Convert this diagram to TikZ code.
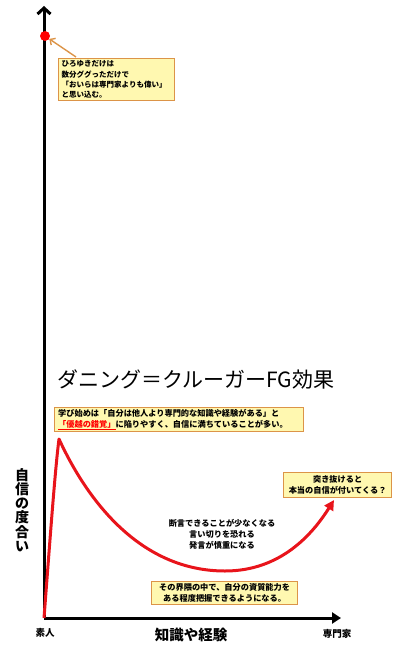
\documentclass[tikz,border=0pt]{standalone}
\usepackage{fontspec}
\setmainfont{Noto Sans CJK JP}
\usetikzlibrary{arrows.meta}
\definecolor{boxfill}{HTML}{FFF8B0}
\definecolor{boxline}{HTML}{DC9448}
\definecolor{curvered}{HTML}{E8141B}
\begin{document}
\begin{tikzpicture}[x=1pt,y=-1pt,
  callout/.style={draw=boxline, fill=boxfill, line width=1.3pt, rectangle, inner xsep=3pt, inner ysep=1pt,
     font=\fontsize{8.2}{11}\selectfont\bfseries},
  axis/.style={line width=3pt, black},
  lbl/.style={font=\fontsize{9.5}{11}\selectfont\bfseries, inner sep=0pt}]
\useasboundingbox (0,0) rectangle (400,652);

% axes
\coordinate (o) at (44,618);
\coordinate (ytop) at (44,6);
\coordinate (xend) at (341,618);
\draw[axis, -{Straight Barb[length=6pt,width=13pt,line width=3pt]}] (o) -- (ytop);
\draw[axis, -{Triangle[length=9pt,width=11pt]}] (o) -- (xend);

% red dot
\node[circle, fill=red, minimum size=10pt, inner sep=0pt] (dot) at (45,36) {};

% callout 1
\node[callout, anchor=north west, minimum width=116pt, minimum height=42pt, text width=110pt, align=left,
  font=\fontsize{7.5}{10.3}\selectfont\bfseries] (b1) at (58,58)
  {ひろゆきだけは\\数分ググっただけで\\「おいらは専門家よりも偉い」\\と思い込む。};
\coordinate (a1) at (76,57);
\draw[boxline, line width=1.4pt, -{Straight Barb[length=4pt,width=8pt]}] (a1) -- (dot);

% title
\node[anchor=west, font=\fontsize{21}{24}\selectfont, inner sep=0pt] (title) at (57,379) {ダニング＝クルーガーFG効果};

% callout 2
\node[callout, anchor=north west, minimum width=249pt, minimum height=24pt, text width=242pt, align=left] (b2) at (54,407)
  {学び始めは「自分は他人より専門的な知識や経験がある」と\\{\color{red}\underline{「優越の錯覚」}}に陥りやすく、自信に満ちていることが多い。};

% curve
\coordinate (peak) at (59,439);
\coordinate (low) at (225,571);
\coordinate (tip) at (334,500);
\draw[curvered, line width=3pt, line join=round, -{Triangle[length=10pt,width=10pt]}]
  (o) .. controls (50,540) and (55,470) .. (peak)
  .. controls (87,500) and (140,571) .. (low)
  .. controls (280,571) and (312,535) .. (tip);

% callout 3
\node[callout, anchor=north west, minimum width=108pt, minimum height=25pt, text width=102pt, align=center] (b3) at (283,472)
  {突き抜けると\\本当の自信が付いてくる？};

% middle text
\node[font=\fontsize{8.2}{11}\selectfont\bfseries, align=center, inner sep=0pt] (mid) at (222,534)
  {断言できることが少なくなる\\言い切りを恐れる\\発言が慎重になる};

% callout 4
\node[callout, anchor=north west, minimum width=146pt, minimum height=23pt, text width=140pt, align=center] (b4) at (151,581)
  {その界隈の中で、自分の資質能力を\\ある程度把握できるようになる。};

% labels
\node[lbl] (novice) at (45,633) {素人};
\node[lbl] (expert) at (337,634) {専門家};
\node[font=\fontsize{14.5}{16}\selectfont\bfseries, inner sep=0pt] (xlab) at (191,635) {知識や経験};
\node[font=\fontsize{14}{14.3}\selectfont\bfseries, align=center, inner sep=0pt] (ylab) at (22,510)
  {自\\信\\の\\度\\合\\い};
\end{tikzpicture}
\end{document}
